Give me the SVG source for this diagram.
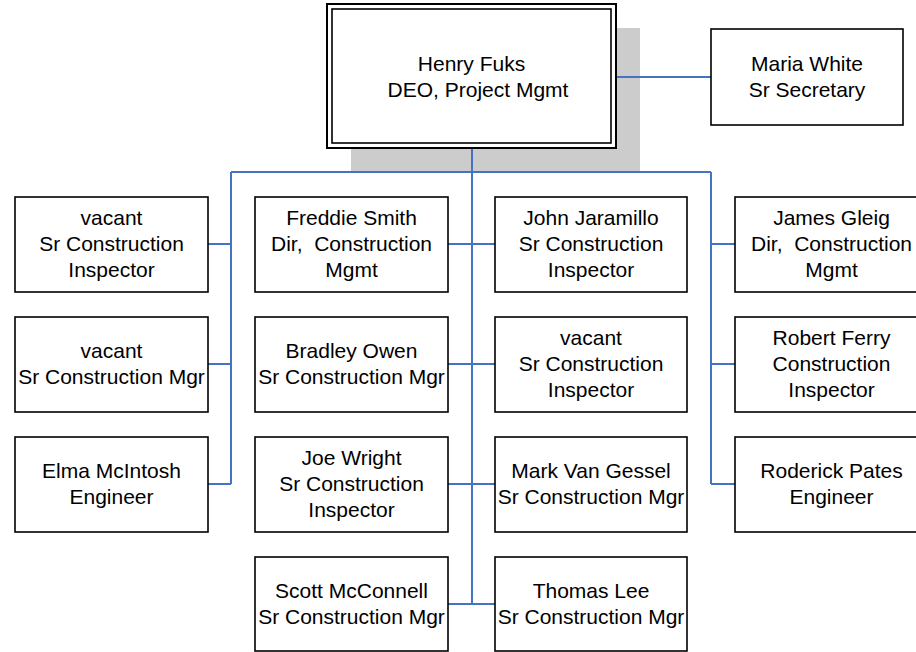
<svg xmlns="http://www.w3.org/2000/svg" width="916" height="652" viewBox="0 0 916 652">
<style>
.box{fill:#fff;stroke:#000;stroke-width:1.6}
.t{font-family:"Liberation Sans",Arial,sans-serif;font-size:21px;fill:#000;text-anchor:middle}
.c{fill:none;stroke:#4472C4;stroke-width:2}
</style>
<rect x="351" y="28" width="289" height="143" fill="#cccccc"/>
<g id="connectors">
<path class="c" d="M616 77H711"/>
<path class="c" d="M231 172H711"/>
<path class="c" d="M472 148V604"/>
<path class="c" d="M231 172V484M208 244H231M208 364H231M208 484H231"/>
<path class="c" d="M711 172V484M711 244H735M711 364H735M711 484H735"/>
<path class="c" d="M448 244H495M448 364H495M448 484H495M448 604H495"/>
</g>
<g id="henry">
<rect x="327" y="4" width="289" height="144" fill="#fff" stroke="#000" stroke-width="2"/>
<rect x="332" y="9" width="279" height="134" fill="none" stroke="#000" stroke-width="1.6"/>
<text class="t" x="471.5" y="71">Henry Fuks</text>
<text class="t" x="478" y="97">DEO, Project Mgmt</text>
</g>
<g id="maria">
<rect class="box" x="711" y="29" width="192" height="96"/>
<text class="t" x="807" y="71">Maria White</text>
<text class="t" x="807" y="97">Sr Secretary</text>
</g>
<g id="vacant1">
<rect class="box" x="15" y="197" width="193" height="95"/>
<text class="t" x="111.5" y="225">vacant</text>
<text class="t" x="111.5" y="251">Sr Construction</text>
<text class="t" x="111.5" y="277">Inspector</text>
</g>
<g id="vacant2">
<rect class="box" x="15" y="317" width="193" height="95"/>
<text class="t" x="111.5" y="358">vacant</text>
<text class="t" x="111.5" y="384">Sr Construction Mgr</text>
</g>
<g id="elma">
<rect class="box" x="15" y="437" width="193" height="95"/>
<text class="t" x="111.5" y="478">Elma McIntosh</text>
<text class="t" x="111.5" y="504">Engineer</text>
</g>
<g id="freddie">
<rect class="box" x="255" y="197" width="193" height="95"/>
<text class="t" x="351.5" y="225">Freddie Smith</text>
<text class="t" x="351.5" y="251" xml:space="preserve">Dir,  Construction</text>
<text class="t" x="351.5" y="277">Mgmt</text>
</g>
<g id="bradley">
<rect class="box" x="255" y="317" width="193" height="95"/>
<text class="t" x="351.5" y="358">Bradley Owen</text>
<text class="t" x="351.5" y="384">Sr Construction Mgr</text>
</g>
<g id="joe">
<rect class="box" x="255" y="437" width="193" height="95"/>
<text class="t" x="351.5" y="465">Joe Wright</text>
<text class="t" x="351.5" y="491">Sr Construction</text>
<text class="t" x="351.5" y="517">Inspector</text>
</g>
<g id="scott">
<rect class="box" x="255" y="557" width="193" height="94"/>
<text class="t" x="351.5" y="598">Scott McConnell</text>
<text class="t" x="351.5" y="624">Sr Construction Mgr</text>
</g>
<g id="john">
<rect class="box" x="495" y="197" width="192" height="95"/>
<text class="t" x="591" y="225">John Jaramillo</text>
<text class="t" x="591" y="251">Sr Construction</text>
<text class="t" x="591" y="277">Inspector</text>
</g>
<g id="vacant3">
<rect class="box" x="495" y="317" width="192" height="95"/>
<text class="t" x="591" y="345">vacant</text>
<text class="t" x="591" y="371">Sr Construction</text>
<text class="t" x="591" y="397">Inspector</text>
</g>
<g id="mark">
<rect class="box" x="495" y="437" width="192" height="95"/>
<text class="t" x="591" y="478">Mark Van Gessel</text>
<text class="t" x="591" y="504">Sr Construction Mgr</text>
</g>
<g id="thomas">
<rect class="box" x="495" y="557" width="192" height="94"/>
<text class="t" x="591" y="598">Thomas Lee</text>
<text class="t" x="591" y="624">Sr Construction Mgr</text>
</g>
<g id="james">
<rect class="box" x="735" y="197" width="193" height="95"/>
<text class="t" x="831.5" y="225">James Gleig</text>
<text class="t" x="831.5" y="251" xml:space="preserve">Dir,  Construction</text>
<text class="t" x="831.5" y="277">Mgmt</text>
</g>
<g id="robert">
<rect class="box" x="735" y="317" width="193" height="95"/>
<text class="t" x="831.5" y="345">Robert Ferry</text>
<text class="t" x="831.5" y="371">Construction</text>
<text class="t" x="831.5" y="397">Inspector</text>
</g>
<g id="roderick">
<rect class="box" x="735" y="437" width="193" height="95"/>
<text class="t" x="831.5" y="478">Roderick Pates</text>
<text class="t" x="831.5" y="504">Engineer</text>
</g>
</svg>
